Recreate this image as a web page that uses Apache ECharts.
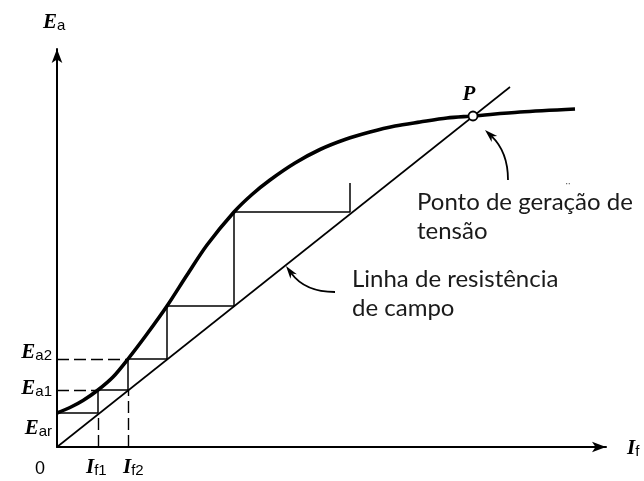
<!DOCTYPE html>
<html>
<head>
<meta charset="utf-8">
<script src="https://cdn.jsdelivr.net/npm/echarts@6/dist/echarts.min.js"></script>
<style>
  html, body { margin: 0; padding: 0; background: #fff; }
  #c { width: 644px; height: 481px; }
</style>
</head>
<body>
<div id="c"></div>
<script>
// Voltage build-up of a self-excited DC generator:
// magnetisation curve, field-resistance line and the build-up staircase.
// Field current I_f on x, armature EMF E_a on y (arbitrary units).

// magnetisation curve
const curveIf = [0, 13, 26, 41, 56, 71, 90, 110, 130, 150, 177, 195, 213, 238, 263, 288, 313, 338, 363, 390, 416, 463, 518];
const curveEa = [34, 39.5, 46.5, 57, 70, 88, 113, 141, 172, 202, 235, 252.5, 267, 284, 297.5, 307.5, 315, 321, 325, 329, 331, 335, 338];

// field-resistance line
const fieldIf = [0, 453];
const fieldEa = [0, 360];

// build-up staircase between the line and the curve
const stepIf = [0, 41, 41, 71, 71, 110, 110, 177, 177, 293, 293];
const stepEa = [34, 34, 57, 57, 88, 88, 141, 141, 235, 235, 264];

// operating point P
const pointP = [416, 331];

// marked levels
const eaTicks = [34, 57, 88];          // E_ar, E_a1, E_a2
const eaSubs = ['ar', 'a1', 'a2'];
const ifTicks = [41, 71];              // I_f1, I_f2
const ifSubs = ['f1', 'f2'];

const zip = (xs, ys) => xs.map((x, i) => [x, ys[i]]);

// dashed guides from the axes to the first steps
const guides = [];
for (let i = 1; i < eaTicks.length; i++) guides.push([[0, eaTicks[i]], [ifTicks[i - 1], eaTicks[i]]]);
for (let i = 0; i < ifTicks.length; i++) guides.push([[ifTicks[i], 0], [ifTicks[i], eaTicks[i]]]);

const serif = '"Liberation Serif", "DejaVu Serif", serif';
const sans = '"Liberation Sans", Arial, sans-serif';
const noteFont = 'Lato, "Open Sans", sans-serif';

const axisCommon = {
  type: 'value',
  min: 0,
  axisLine: {
    show: true,
    symbol: ['none', 'arrow'],
    symbolSize: [8, 14],
    lineStyle: { color: '#000', width: 2 }
  },
  axisTick: { show: false },
  axisLabel: { show: false },
  splitLine: { show: false }
};

const chart = echarts.init(document.getElementById('c'));
chart.setOption({
  animation: false,
  backgroundColor: '#fff',
  grid: { left: 57, top: 49, right: 38, bottom: 34 },
  xAxis: Object.assign({}, axisCommon, { max: 549 }),
  yAxis: Object.assign({}, axisCommon, { max: 398 }),
  series: [
    {
      type: 'line', data: zip(fieldIf, fieldEa), symbol: 'none', silent: true, z: 3,
      lineStyle: { color: '#000', width: 1.6 }
    },
    {
      type: 'line', data: zip(stepIf, stepEa), symbol: 'none', silent: true, z: 3,
      lineStyle: { color: '#000', width: 1.5 }
    },
    {
      type: 'lines', coordinateSystem: 'cartesian2d', silent: true, z: 2,
      lineStyle: { color: '#000', width: 1.4, type: [12, 5], opacity: 1 },
      data: guides.map(g => ({ coords: g }))
    },
    {
      type: 'line', data: zip(curveIf, curveEa), symbol: 'none', silent: true, z: 4,
      smooth: 0.3,
      lineStyle: { color: '#000', width: 3.6 }
    },
    {
      type: 'scatter', data: [pointP], symbol: 'circle', symbolSize: 9, silent: true, z: 6,
      itemStyle: { color: '#fff', borderColor: '#000', borderWidth: 1.8, opacity: 1 }
    }
  ]
});

const toPx = p => chart.convertToPixel({ gridIndex: 0 }, p);

// symbol with subscript: italic serif letter + upright sans subscript
function symText(x, y, main, sub, align, drop) {
  return {
    type: 'text', x: x, y: y, z: 10,
    style: {
      text: '{m|' + main + '}{s|' + sub + '}',
      align: align, verticalAlign: 'middle',
      rich: {
        m: { fontFamily: serif, fontStyle: 'italic', fontWeight: 'bold', fontSize: 21, lineHeight: 21, verticalAlign: 'bottom', fill: '#000' },
        s: { fontFamily: sans, fontSize: 15, lineHeight: 15 - 2 * drop, verticalAlign: 'bottom', fill: '#000' }
      }
    }
  };
}

// curved annotation arrow (quadratic) with a narrow filled head at the tip
function arrow(tail, ctrl, tip) {
  const a = toPx(tail), c = toPx(ctrl), t = toPx(tip);
  const dx = t[0] - c[0], dy = t[1] - c[1];
  const len = Math.hypot(dx, dy);
  const ux = dx / len, uy = dy / len;
  const L = 13, W = 8;
  const bx = t[0] - ux * L, by = t[1] - uy * L;
  const nx = -uy, ny = ux;
  return [
    {
      type: 'bezierCurve', z: 9,
      shape: { x1: a[0], y1: a[1], cpx1: c[0], cpy1: c[1], x2: bx + ux * 4, y2: by + uy * 4 },
      style: { stroke: '#000', lineWidth: 1.8, fill: null }
    },
    {
      type: 'polygon', z: 9,
      shape: { points: [
        [t[0], t[1]],
        [bx + nx * W / 2, by + ny * W / 2],
        [t[0] - ux * L * 0.72, t[1] - uy * L * 0.72],
        [bx - nx * W / 2, by - ny * W / 2]
      ] },
      style: { fill: '#000' }
    }
  ];
}

const origin = toPx([0, 0]);
const yTop = toPx([0, 398]);
const xEnd = toPx([549, 0]);
const pP = toPx(pointP);

const g = [];
// axis titles
g.push(symText(origin[0] - 14, yTop[1] - 26, 'E', 'a', 'left', 3));
g.push(symText(xEnd[0] + 21, origin[1] + 2, 'I', 'f', 'left', 3));
g.push({
  type: 'text', x: origin[0] - 17, y: origin[1] + 22, z: 10,
  style: { text: '0', fontFamily: sans, fontSize: 18, fill: '#000', align: 'center', verticalAlign: 'middle' }
});

// level labels on the E_a axis
const eaNudge = [16, -1, -6];
eaTicks.forEach((v, i) => {
  const p = toPx([0, v]);
  g.push(symText(p[0] - 5, p[1] + eaNudge[i], 'E', eaSubs[i], 'right', 0));
});
// current labels on the I_f axis
const ifNudge = [-12, -5];
ifTicks.forEach((v, i) => {
  const p = toPx([v, 0]);
  g.push(symText(p[0] + ifNudge[i], p[1] + 21, 'I', ifSubs[i], 'left', 3));
});

// operating point label
g.push({
  type: 'text', x: pP[0] - 4, y: pP[1] - 21, z: 10,
  style: { text: 'P', fontFamily: serif, fontStyle: 'italic', fontWeight: 'bold', fontSize: 21, fill: '#000', align: 'center', verticalAlign: 'middle' }
});

// notes
const pNote = toPx([360, 259]);
g.push({
  type: 'text', x: pNote[0], y: pNote[1], z: 10,
  style: { text: 'Ponto de geração de\ntensão', fontFamily: noteFont, fontSize: 24, lineHeight: 29, fill: '#1a1a1a', align: 'left', verticalAlign: 'top' }
});
const dots = toPx([511, 258]);
g.push({
  type: 'text', x: dots[0], y: dots[1], z: 10,
  style: { text: '¨', fontFamily: sans, fontSize: 14, fill: '#666', align: 'center', verticalAlign: 'middle' }
});
const lNote = toPx([295, 182]);
g.push({
  type: 'text', x: lNote[0], y: lNote[1], z: 10,
  style: { text: 'Linha de resistência\nde campo', fontFamily: noteFont, fontSize: 24, lineHeight: 29, fill: '#1a1a1a', align: 'left', verticalAlign: 'top' }
});

// arrows pointing at P and at the field-resistance line
arrow([451, 267], [451, 295], [428, 317]).forEach(e => g.push(e));
arrow([278, 155], [248, 155], [229, 181]).forEach(e => g.push(e));

chart.setOption({ graphic: g });
</script>
</body>
</html>
